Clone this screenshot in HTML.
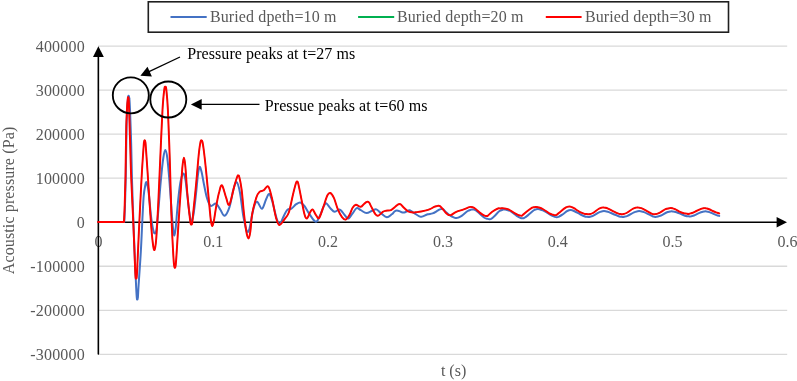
<!DOCTYPE html>
<html><head><meta charset="utf-8"><title>Acoustic pressure chart</title>
<style>html,body{margin:0;padding:0;background:#fff;overflow:hidden}</style></head>
<body>
<svg width="797" height="381" viewBox="0 0 797 381" style="display:block;will-change:transform;font-family:'Liberation Serif',serif;font-size:16px">
<rect width="797" height="381" fill="#fff"/>
<line x1="98" y1="46.10" x2="787.2" y2="46.10" stroke="#d9d9d9" stroke-width="1.3"/>
<line x1="98" y1="90.13" x2="787.2" y2="90.13" stroke="#d9d9d9" stroke-width="1.3"/>
<line x1="98" y1="134.16" x2="787.2" y2="134.16" stroke="#d9d9d9" stroke-width="1.3"/>
<line x1="98" y1="178.19" x2="787.2" y2="178.19" stroke="#d9d9d9" stroke-width="1.3"/>
<line x1="98" y1="266.25" x2="787.2" y2="266.25" stroke="#d9d9d9" stroke-width="1.3"/>
<line x1="98" y1="310.28" x2="787.2" y2="310.28" stroke="#d9d9d9" stroke-width="1.3"/>
<line x1="98" y1="354.31" x2="787.2" y2="354.31" stroke="#d9d9d9" stroke-width="1.3"/>
<text x="84.7" y="51.5" text-anchor="end" textLength="49" lengthAdjust="spacing" fill="#595959">400000</text>
<text x="84.7" y="95.5" text-anchor="end" textLength="49" lengthAdjust="spacing" fill="#595959">300000</text>
<text x="84.7" y="139.5" text-anchor="end" textLength="49" lengthAdjust="spacing" fill="#595959">200000</text>
<text x="84.7" y="183.5" text-anchor="end" textLength="49" lengthAdjust="spacing" fill="#595959">100000</text>
<text x="84.7" y="227.5" text-anchor="end" fill="#595959">0</text>
<text x="84.7" y="271.5" text-anchor="end" textLength="54.4" lengthAdjust="spacing" fill="#595959">-100000</text>
<text x="84.7" y="315.5" text-anchor="end" textLength="54.4" lengthAdjust="spacing" fill="#595959">-200000</text>
<text x="84.7" y="359.5" text-anchor="end" textLength="54.4" lengthAdjust="spacing" fill="#595959">-300000</text>
<text x="98.4" y="246.9" text-anchor="middle" fill="#595959">0</text>
<text x="213.2" y="246.9" text-anchor="middle" fill="#595959">0.1</text>
<text x="328.1" y="246.9" text-anchor="middle" fill="#595959">0.2</text>
<text x="442.9" y="246.9" text-anchor="middle" fill="#595959">0.3</text>
<text x="557.8" y="246.9" text-anchor="middle" fill="#595959">0.4</text>
<text x="672.6" y="246.9" text-anchor="middle" fill="#595959">0.5</text>
<text x="787.5" y="246.9" text-anchor="middle" fill="#595959">0.6</text>
<text transform="translate(13.6,200.5) rotate(-90)" text-anchor="middle" textLength="147.6" lengthAdjust="spacing" fill="#595959">Acoustic pressure (Pa)</text>
<text x="453.6" y="375.9" text-anchor="middle" fill="#595959">t (s)</text>
<line x1="98.35" y1="354" x2="98.35" y2="55" stroke="#000" stroke-width="1.6" stroke-linecap="round"/>
<polygon points="98.4,46.3 93,57 103.8,57" fill="#000"/>
<line x1="97.4" y1="222.25" x2="778" y2="222.25" stroke="#000" stroke-width="1.4"/>
<polygon points="787,222.3 776.6,217 776.6,227.6" fill="#000"/>
<path d="M98 222L124.3 222L124.3 222.0C124.4 219.2 124.8 212.7 125.0 205.0C125.2 197.3 125.6 186.5 125.8 176.0C126.0 165.5 126.1 151.0 126.3 142.0C126.5 133.0 126.5 128.0 126.7 122.0C126.9 116.0 127.2 110.1 127.4 106.0C127.6 101.9 127.9 99.1 128.1 97.4C128.3 95.7 128.5 95.7 128.7 95.8C128.9 95.9 129.1 95.5 129.3 98.2C129.6 100.9 129.8 104.2 130.1 112.0C130.4 119.8 130.9 133.7 131.2 145.0C131.5 156.3 131.6 167.2 132.0 180.0C132.4 192.8 132.9 208.3 133.4 222.0C133.9 235.7 134.5 251.0 135.0 262.0C135.5 273.0 135.9 282.0 136.2 288.0C136.5 294.0 136.6 295.8 136.8 297.7C137.0 299.7 137.1 299.6 137.3 299.5C137.5 299.4 137.7 299.7 137.9 297.3C138.1 294.9 138.1 292.5 138.6 285.0C139.1 277.5 140.1 263.7 140.8 252.0C141.5 240.3 142.1 224.3 142.6 215.0C143.1 205.7 143.3 200.8 143.7 196.0C144.1 191.2 144.6 188.5 145.1 186.2C145.6 183.9 145.9 181.2 146.5 182.2C147.1 183.2 147.9 186.5 148.6 192.0C149.3 197.5 150.2 208.8 150.9 215.0C151.6 221.2 152.3 225.9 153.0 229.0C153.7 232.1 154.4 233.8 155.0 233.5C155.6 233.2 156.2 231.8 156.8 227.0C157.4 222.2 158.1 213.2 158.8 205.0C159.5 196.8 160.3 185.8 161.1 178.0C161.8 170.2 162.6 162.7 163.3 158.0C164.0 153.3 164.6 150.1 165.3 150.1C166.0 150.1 166.6 152.7 167.3 158.0C168.0 163.3 168.8 173.0 169.5 182.0C170.2 191.0 171.1 204.2 171.7 212.0C172.3 219.8 172.6 225.1 173.1 229.0C173.6 232.9 173.9 235.7 174.4 235.4C174.9 235.1 175.2 232.1 175.8 227.0C176.4 221.9 176.9 212.3 177.7 205.0C178.4 197.7 179.4 188.2 180.3 183.0C181.2 177.8 182.3 174.2 183.2 173.7C184.1 173.2 184.8 175.9 185.5 180.0C186.2 184.1 186.9 192.3 187.6 198.0C188.3 203.7 188.9 210.2 189.6 214.0C190.2 217.8 190.8 220.5 191.5 220.5C192.2 220.5 192.8 218.4 193.6 214.0C194.3 209.6 195.3 200.5 196.0 194.0C196.7 187.5 197.3 179.5 197.9 175.0C198.5 170.5 199.0 167.4 199.6 166.9C200.2 166.4 200.9 169.2 201.6 172.0C202.3 174.8 203.0 179.5 203.9 184.0C204.8 188.5 206.0 195.2 207.2 198.8C208.3 202.5 209.3 205.1 210.8 205.9C212.3 206.7 214.4 202.9 216.0 203.6C217.6 204.2 219.0 207.8 220.4 209.8C221.8 211.8 223.1 216.2 224.6 215.8C226.1 215.4 227.9 211.8 229.4 207.4C230.9 203.0 232.2 193.7 233.4 189.5C234.6 185.3 235.6 181.6 236.7 182.1C237.8 182.6 238.9 187.1 240.0 192.7C241.1 198.3 242.2 209.7 243.2 215.6C244.2 221.5 245.1 225.3 245.8 228.0C246.5 230.7 247.0 231.7 247.6 231.9C248.2 232.1 248.9 230.7 249.4 229.0C249.9 227.3 250.1 225.6 250.8 222.0C251.5 218.4 252.8 210.8 253.8 207.4C254.9 204.0 255.7 201.5 257.1 201.7C258.5 201.9 260.5 209.1 262.0 208.7C263.5 208.3 264.9 201.8 266.1 199.3C267.3 196.9 268.2 193.5 269.3 194.0C270.4 194.5 271.4 198.4 272.6 202.5C273.8 206.6 275.5 215.3 276.7 218.8C277.9 222.3 278.8 224.0 279.9 223.7C281.0 223.4 282.0 219.5 283.2 217.2C284.4 214.9 285.9 211.3 287.3 209.9C288.7 208.5 289.9 209.6 291.4 208.7C292.9 207.8 294.7 205.2 296.2 204.2C297.7 203.2 298.9 202.2 300.3 202.5C301.7 202.8 302.9 203.9 304.4 205.8C305.9 207.7 307.4 211.2 309.3 213.9C311.2 216.6 314.0 221.5 315.8 221.8C317.6 222.1 318.5 218.3 319.9 215.6C321.3 212.9 322.9 207.8 324.0 205.8C325.1 203.8 325.3 203.0 326.4 203.4C327.5 203.8 329.2 207.1 330.6 208.5C332.0 209.9 333.2 211.7 334.7 211.8C336.2 212.0 338.2 209.3 339.6 209.4C341.0 209.5 341.6 211.2 342.8 212.6C344.0 214.0 345.9 216.9 346.9 217.8C347.9 218.7 348.1 218.9 349.0 218.2C349.9 217.5 351.3 215.1 352.6 213.4C353.9 211.7 355.3 208.6 356.7 208.1C358.1 207.6 359.2 209.4 360.8 210.2C362.4 211.0 364.6 213.0 366.5 213.1C368.4 213.2 370.6 211.3 372.2 210.7C373.8 210.1 374.8 208.9 376.3 209.4C377.8 209.9 379.4 212.1 381.2 213.4C383.0 214.7 385.1 217.0 386.9 217.2C388.7 217.3 390.5 215.2 391.8 214.3C393.1 213.4 393.7 212.1 394.5 211.5C395.3 210.9 395.9 210.6 396.8 210.6C397.7 210.6 399.2 211.1 400.0 211.4C400.8 211.7 401.1 212.1 401.7 212.3C402.3 212.5 402.8 212.6 403.4 212.6C404.0 212.6 404.5 212.5 405.1 212.3C405.7 212.0 406.2 211.5 407.0 211.2C407.8 210.9 408.4 209.8 409.7 210.2C411.0 210.6 413.0 212.4 414.6 213.4C416.2 214.4 418.3 215.8 419.4 216.4C420.5 216.9 420.5 216.7 421.1 216.7C421.7 216.7 421.7 216.8 422.8 216.4C423.9 216.0 426.1 214.8 427.7 214.3C429.3 213.8 431.0 214.0 432.6 213.4C434.2 212.8 436.3 211.4 437.5 210.7C438.7 210.0 439.1 209.6 439.8 209.3C440.5 209.0 440.9 209.0 441.5 209.0C442.1 209.0 442.4 208.7 443.2 209.3C444.0 209.9 445.2 211.5 446.4 212.6C447.6 213.7 449.2 215.1 450.6 215.9C452.0 216.7 453.7 217.3 454.6 217.7C455.6 218.0 455.7 218.0 456.3 218.0C456.9 218.0 457.1 218.1 458.0 217.7C458.9 217.3 460.4 216.7 462.0 215.6C463.6 214.5 466.2 212.0 467.7 211.0C469.2 210.0 470.1 210.0 470.9 209.7C471.7 209.5 472.0 209.4 472.6 209.4C473.2 209.4 473.5 209.3 474.3 209.7C475.1 210.1 475.9 210.5 477.5 211.8C479.1 213.1 482.3 216.3 484.0 217.5C485.7 218.7 486.8 218.6 487.7 218.9C488.6 219.2 488.8 219.2 489.4 219.2C490.0 219.2 490.2 219.4 491.1 218.9C492.0 218.3 493.2 217.2 494.6 215.9C496.0 214.6 498.1 212.0 499.5 211.0C500.9 210.0 501.9 210.0 502.7 209.7C503.5 209.5 503.8 209.4 504.4 209.4C505.0 209.4 505.1 209.5 506.1 209.7C507.0 210.0 508.3 210.0 510.1 211.0C511.9 212.0 514.9 214.7 516.7 215.9C518.5 217.1 519.8 217.6 520.7 218.0C521.6 218.4 521.8 218.3 522.4 218.3C523.0 218.3 523.1 218.5 524.1 218.0C525.1 217.4 526.5 216.4 528.1 215.1C529.7 213.8 532.4 211.2 533.8 210.2C535.1 209.2 535.5 209.5 536.2 209.3C536.9 209.1 537.3 209.0 537.9 209.0C538.5 209.0 538.5 209.0 539.6 209.3C540.7 209.7 542.5 210.0 544.4 211.0C546.3 212.0 549.1 214.1 550.9 215.1C552.6 216.1 553.9 216.5 554.9 216.9C555.9 217.2 556.0 217.2 556.6 217.2C557.2 217.2 557.4 217.3 558.3 216.9C559.2 216.4 560.8 215.6 562.3 214.6C563.8 213.6 565.9 211.8 567.0 211.1C568.1 210.4 568.3 210.5 568.9 210.3C569.5 210.1 570.0 210.0 570.6 210.0C571.2 210.0 571.6 210.1 572.3 210.3C573.0 210.6 573.6 210.8 575.0 211.5C576.4 212.2 578.8 213.7 580.5 214.5C582.2 215.3 584.0 216.1 585.0 216.5C586.0 216.9 586.2 216.6 586.8 216.7C587.4 216.8 587.9 217.0 588.5 217.0C589.1 217.0 589.5 216.9 590.2 216.7C591.0 216.5 591.5 216.6 593.0 215.9C594.5 215.2 597.5 213.1 599.0 212.3C600.5 211.5 601.5 211.5 602.3 211.3C603.1 211.1 603.4 211.0 604.0 211.0C604.6 211.0 604.9 211.1 605.7 211.3C606.5 211.5 607.5 211.5 609.0 212.1C610.5 212.7 613.2 214.0 615.0 214.7C616.8 215.4 618.5 216.2 619.5 216.5C620.5 216.8 620.5 216.6 621.1 216.7C621.6 216.8 622.2 217.0 622.8 217.0C623.4 217.0 623.7 216.9 624.5 216.7C625.3 216.5 625.9 216.5 627.5 215.8C629.1 215.1 632.4 213.0 634.0 212.3C635.6 211.6 636.5 211.5 637.4 211.3C638.2 211.1 638.5 211.0 639.1 211.0C639.7 211.0 640.0 211.1 640.8 211.3C641.6 211.5 642.5 211.5 644.0 212.1C645.5 212.7 648.0 214.0 649.5 214.7C651.0 215.4 652.0 216.1 653.0 216.5C654.0 216.9 654.1 217.1 655.4 217.0C656.6 216.9 658.6 216.5 660.5 215.7C662.4 215.0 664.9 213.2 666.5 212.5C668.1 211.8 669.1 211.8 670.0 211.6C670.9 211.4 671.1 211.3 671.7 211.3C672.3 211.3 672.6 211.5 673.4 211.6C674.2 211.8 675.1 211.9 676.5 212.3C677.9 212.7 679.9 213.7 681.5 214.3C683.1 214.9 684.9 215.7 686.0 216.0C687.1 216.3 687.5 216.1 688.1 216.2C688.7 216.3 689.2 216.5 689.8 216.5C690.4 216.5 690.8 216.3 691.5 216.2C692.2 216.0 692.7 216.0 694.0 215.5C695.3 215.0 697.9 213.5 699.5 212.9C701.1 212.3 702.6 211.9 703.6 211.6C704.6 211.4 704.7 211.3 705.3 211.3C705.9 211.3 706.3 211.5 707.0 211.6C707.7 211.8 708.4 211.7 709.5 212.1C710.6 212.5 712.3 213.3 713.5 213.8C714.7 214.3 715.5 214.8 716.5 215.1C717.5 215.5 718.8 215.8 719.2 215.9" fill="none" stroke="#4472c4" stroke-width="2" stroke-linejoin="round" stroke-linecap="round"/>
<path d="M98 222L124.0 222L124.0 222.0C124.1 219.2 124.5 212.7 124.7 205.0C125.0 197.3 125.3 186.5 125.5 176.0C125.7 165.5 125.8 151.0 126.0 142.0C126.2 133.0 126.2 127.8 126.4 122.0C126.6 116.2 126.9 110.9 127.1 107.0C127.3 103.1 127.6 100.3 127.8 98.6C128.0 97.0 128.1 97.0 128.3 97.1C128.5 97.2 128.6 96.9 128.7 99.4C128.9 101.9 129.0 104.4 129.2 112.0C129.4 119.6 129.8 133.7 130.2 145.0C130.5 156.3 130.8 168.2 131.3 180.0C131.8 191.8 132.4 203.5 133.0 216.0C133.6 228.5 134.2 245.0 134.6 255.0C135.0 265.0 135.2 272.1 135.5 276.0C135.7 279.9 136.0 278.4 136.2 278.4C136.4 278.4 136.6 279.1 136.8 276.0C137.1 272.9 137.2 268.5 137.6 260.0C138.0 251.5 138.6 237.5 139.2 225.0C139.8 212.5 140.6 196.7 141.2 185.0C141.8 173.3 142.5 162.1 143.0 155.0C143.5 147.9 143.7 144.9 143.9 142.5C144.2 140.0 144.4 140.2 144.7 140.2C145.0 140.2 145.2 140.0 145.5 142.5C145.7 144.9 145.9 148.2 146.4 155.0C146.9 161.8 147.6 172.5 148.3 183.0C149.0 193.5 149.9 208.2 150.6 218.0C151.3 227.8 152.0 236.7 152.7 242.0C153.3 247.3 153.9 250.7 154.5 250.0C155.1 249.3 155.7 245.5 156.3 238.0C156.9 230.5 157.5 218.0 158.2 205.0C158.8 192.0 159.5 175.8 160.2 160.0C160.9 144.2 161.8 121.8 162.5 110.0C163.2 98.2 163.8 93.2 164.3 89.4C164.8 85.6 165.0 87.0 165.3 87.0C165.6 87.0 165.9 85.6 166.3 89.4C166.7 93.2 167.3 98.2 167.9 110.0C168.5 121.8 169.2 142.5 169.8 160.0C170.4 177.5 170.8 199.2 171.4 215.0C172.0 230.8 172.8 246.5 173.3 255.0C173.8 263.5 173.9 263.8 174.2 266.0C174.4 268.2 174.7 268.0 174.9 268.0C175.1 268.0 175.4 268.2 175.6 266.0C175.9 263.8 176.0 262.3 176.5 255.0C177.0 247.7 177.8 233.3 178.6 222.0C179.3 210.7 180.3 196.3 181.0 187.0C181.7 177.7 182.0 170.9 182.5 166.0C183.0 161.1 183.4 157.7 183.9 157.7C184.4 157.7 184.8 160.3 185.3 166.0C185.9 171.7 186.5 183.8 187.2 192.0C187.9 200.2 188.9 209.8 189.5 215.0C190.1 220.2 190.2 221.5 190.5 223.1C190.9 224.7 191.1 224.7 191.4 224.6C191.7 224.5 191.9 224.8 192.3 222.7C192.6 220.6 192.6 218.8 193.3 212.0C194.0 205.2 195.4 191.8 196.3 182.0C197.2 172.2 198.2 159.7 198.9 153.0C199.6 146.3 200.1 144.1 200.5 142.0C200.9 139.9 201.2 140.4 201.5 140.4C201.8 140.4 202.1 140.0 202.5 142.0C202.9 143.9 203.4 147.2 204.0 152.0C204.6 156.8 205.2 162.0 206.1 171.0C207.0 180.0 208.6 197.6 209.4 205.8C210.2 214.0 210.3 216.6 210.8 220.0C211.3 223.4 211.8 226.2 212.4 226.0C213.0 225.8 213.5 222.4 214.2 219.0C214.8 215.6 215.5 210.3 216.3 205.8C217.1 201.3 218.2 195.4 219.2 192.0C220.1 188.6 220.8 184.5 222.0 185.4C223.2 186.3 224.9 194.4 226.1 197.6C227.3 200.8 228.0 206.5 229.4 204.6C230.8 202.7 233.0 190.9 234.3 186.2C235.6 181.5 236.6 178.3 237.3 176.5C238.0 174.7 238.0 175.5 238.3 175.6C238.6 175.7 238.8 174.7 239.3 177.0C239.9 179.3 240.8 183.4 241.6 189.5C242.4 195.6 243.2 206.8 244.0 213.9C244.8 221.0 245.6 227.9 246.4 232.0C247.2 236.1 247.9 238.6 248.6 238.4C249.3 238.2 249.8 235.1 250.4 231.0C251.0 226.9 251.2 219.5 252.2 213.9C253.2 208.3 255.1 201.3 256.3 197.6C257.5 193.9 258.3 193.1 259.5 191.9C260.7 190.7 262.2 191.2 263.6 190.3C265.1 189.4 266.8 185.3 268.2 186.5C269.6 187.7 270.5 192.5 271.8 197.6C273.1 202.7 274.6 212.6 275.9 217.2C277.2 221.8 277.9 224.7 279.4 225.0C280.9 225.3 283.2 220.9 284.8 218.8C286.4 216.7 287.5 216.4 288.9 212.3C290.3 208.2 291.8 199.3 293.0 194.4C294.2 189.5 295.4 184.9 296.1 182.8C296.8 180.7 296.8 181.8 297.1 181.8C297.4 181.8 297.4 180.5 298.1 183.1C298.8 185.8 300.1 192.5 301.1 197.6C302.2 202.7 303.4 210.4 304.4 213.9C305.4 217.4 305.9 218.8 306.9 218.5C307.8 218.2 309.2 213.8 310.1 212.3C311.1 210.8 311.7 209.0 312.6 209.4C313.6 209.8 314.7 213.4 315.8 214.8C316.9 216.2 317.9 219.2 319.1 218.0C320.3 216.8 321.8 211.2 323.2 207.4C324.6 203.7 326.1 197.9 327.3 195.5C328.5 193.1 329.2 192.6 330.3 193.0C331.4 193.4 332.6 195.2 333.9 197.9C335.2 200.6 336.5 206.2 337.9 209.4C339.2 212.6 340.7 215.5 342.0 217.2C343.3 218.9 344.4 219.9 345.6 219.6C346.8 219.2 348.2 217.1 349.4 215.1C350.6 213.1 351.5 209.4 352.6 207.7C353.7 206.0 354.5 205.0 355.9 204.8C357.3 204.7 359.4 207.0 360.8 206.8C362.2 206.7 363.1 204.7 364.0 203.9C364.9 203.1 365.6 202.5 366.2 202.1C366.8 201.7 367.3 201.6 367.8 201.7C368.3 201.8 368.7 201.9 369.3 202.8C369.9 203.7 370.4 205.0 371.4 206.9C372.4 208.8 374.3 212.9 375.5 214.3C376.7 215.8 377.2 216.0 378.4 215.6C379.6 215.2 381.5 212.6 382.8 211.8C384.1 211.0 384.7 211.0 386.1 210.7C387.5 210.4 389.4 210.9 391.0 210.2C392.6 209.5 394.4 207.5 395.5 206.6C396.6 205.7 397.1 205.0 397.8 204.6C398.5 204.2 398.9 204.0 399.5 204.0C400.1 204.0 400.6 204.2 401.2 204.7C401.8 205.2 402.2 206.1 403.4 207.2C404.5 208.3 406.7 210.5 408.1 211.3C409.6 212.1 411.2 212.1 412.1 212.3C413.1 212.5 413.2 212.6 413.8 212.6C414.4 212.6 414.3 212.5 415.5 212.3C416.7 212.1 418.8 212.0 421.1 211.5C423.4 211.0 427.1 210.2 429.3 209.4C431.5 208.6 433.0 207.4 434.2 206.9C435.4 206.4 435.9 206.3 436.6 206.1C437.3 205.9 437.7 205.8 438.3 205.8C438.9 205.8 439.3 205.7 440.0 206.1C440.7 206.6 441.3 207.4 442.3 208.5C443.3 209.6 445.0 212.0 446.0 213.0C447.0 214.0 447.5 214.4 448.1 214.8C448.7 215.1 449.2 215.1 449.8 215.1C450.4 215.1 450.4 215.3 451.5 214.8C452.6 214.2 454.3 212.7 456.3 211.8C458.3 210.9 461.5 210.2 463.7 209.4C465.9 208.6 468.1 207.6 469.3 207.2C470.5 206.8 470.4 206.9 471.0 206.9C471.6 206.9 472.0 207.0 472.7 207.2C473.4 207.5 473.8 207.5 475.1 208.5C476.5 209.5 479.2 212.2 480.8 213.4C482.4 214.6 483.6 215.2 484.5 215.6C485.4 216.0 485.6 215.9 486.2 215.9C486.8 215.9 486.9 216.3 487.9 215.6C488.9 214.9 490.5 213.0 492.2 211.8C493.9 210.6 496.5 209.1 497.9 208.5C499.2 207.9 499.6 208.5 500.3 208.4C501.0 208.4 501.4 208.1 502.0 208.1C502.6 208.1 502.6 208.2 503.7 208.4C504.8 208.6 506.6 208.6 508.5 209.4C510.4 210.2 513.2 212.4 515.0 213.4C516.8 214.4 518.0 214.9 519.0 215.3C520.0 215.6 520.1 215.6 520.7 215.6C521.3 215.6 521.4 215.9 522.4 215.3C523.4 214.6 524.9 213.1 526.5 211.8C528.1 210.5 530.9 208.5 532.2 207.7C533.5 206.9 533.8 207.4 534.5 207.2C535.2 207.1 535.6 206.9 536.2 206.9C536.8 206.9 536.8 206.9 537.9 207.2C539.0 207.6 540.9 208.0 542.8 209.0C544.7 210.0 547.5 212.4 549.3 213.4C551.0 214.4 552.3 214.5 553.3 214.8C554.2 215.1 554.4 215.1 555.0 215.1C555.6 215.1 555.8 215.4 556.7 214.8C557.7 214.2 559.2 212.6 560.7 211.4C562.2 210.2 564.8 208.2 566.0 207.4C567.2 206.6 567.2 207.0 567.8 206.8C568.4 206.7 568.9 206.5 569.5 206.5C570.1 206.5 570.5 206.5 571.2 206.8C572.0 207.1 572.6 207.4 574.0 208.2C575.4 209.0 577.9 210.9 579.6 211.8C581.4 212.7 583.3 213.4 584.5 213.8C585.7 214.2 586.1 213.9 586.8 214.0C587.5 214.1 587.9 214.3 588.5 214.3C589.1 214.3 589.5 214.2 590.2 214.0C591.0 213.8 591.6 213.8 593.0 213.0C594.4 212.2 597.1 209.9 598.5 209.0C599.9 208.1 600.7 208.0 601.5 207.7C602.3 207.5 602.6 207.4 603.2 207.4C603.8 207.4 604.1 207.5 604.9 207.7C605.7 207.9 606.5 208.0 608.0 208.6C609.5 209.2 612.2 210.8 614.0 211.6C615.8 212.4 617.5 213.3 618.5 213.7C619.5 214.1 619.7 213.9 620.3 214.0C620.9 214.1 621.4 214.3 622.0 214.3C622.6 214.3 623.0 214.2 623.7 214.0C624.5 213.8 625.0 213.8 626.5 213.0C628.0 212.2 631.0 209.9 632.5 209.0C634.0 208.1 635.0 208.0 635.8 207.7C636.6 207.5 636.9 207.4 637.5 207.4C638.1 207.4 638.4 207.5 639.2 207.7C640.0 207.9 641.0 208.0 642.5 208.6C644.0 209.2 646.5 210.8 648.0 211.6C649.5 212.4 650.4 213.1 651.5 213.6C652.6 214.1 653.3 214.4 654.6 214.3C655.9 214.2 657.7 213.7 659.5 212.8C661.3 212.0 663.9 209.9 665.5 209.2C667.1 208.5 668.3 208.5 669.2 208.3C670.1 208.1 670.3 208.0 670.9 208.0C671.5 208.0 671.8 208.1 672.6 208.3C673.4 208.5 674.3 208.7 675.5 209.3C676.7 209.9 678.5 211.1 680.0 211.8C681.5 212.5 683.4 213.1 684.5 213.4C685.6 213.7 685.9 213.5 686.5 213.6C687.1 213.7 687.6 213.9 688.2 213.9C688.8 213.9 689.3 213.7 689.9 213.6C690.5 213.4 690.9 213.4 692.0 213.0C693.1 212.6 694.9 211.7 696.4 211.0C697.9 210.3 699.9 209.2 701.0 208.8C702.1 208.4 702.2 208.5 702.8 208.4C703.4 208.3 703.9 208.1 704.5 208.1C705.1 208.1 705.5 208.3 706.2 208.4C706.9 208.6 707.4 208.6 708.5 209.0C709.6 209.4 711.5 210.4 712.7 211.0C714.0 211.6 714.9 212.0 716.0 212.4C717.1 212.8 718.7 213.2 719.2 213.4" fill="none" stroke="#00b050" stroke-width="1" stroke-linejoin="round" stroke-linecap="round"/>
<path d="M98 222L124.0 222L124.0 222.0C124.1 219.2 124.5 212.7 124.7 205.0C125.0 197.3 125.3 186.5 125.5 176.0C125.7 165.5 125.8 151.0 126.0 142.0C126.2 133.0 126.2 127.8 126.4 122.0C126.6 116.2 126.9 110.9 127.1 107.0C127.3 103.1 127.6 100.3 127.8 98.6C128.0 97.0 128.1 97.0 128.3 97.1C128.5 97.2 128.6 96.9 128.7 99.4C128.9 101.9 129.0 104.4 129.2 112.0C129.4 119.6 129.8 133.7 130.2 145.0C130.5 156.3 130.8 168.2 131.3 180.0C131.8 191.8 132.4 203.5 133.0 216.0C133.6 228.5 134.2 245.0 134.6 255.0C135.0 265.0 135.2 272.1 135.5 276.0C135.7 279.9 136.0 278.4 136.2 278.4C136.4 278.4 136.6 279.1 136.8 276.0C137.1 272.9 137.2 268.5 137.6 260.0C138.0 251.5 138.6 237.5 139.2 225.0C139.8 212.5 140.6 196.7 141.2 185.0C141.8 173.3 142.5 162.1 143.0 155.0C143.5 147.9 143.7 144.9 143.9 142.5C144.2 140.0 144.4 140.2 144.7 140.2C145.0 140.2 145.2 140.0 145.5 142.5C145.7 144.9 145.9 148.2 146.4 155.0C146.9 161.8 147.6 172.5 148.3 183.0C149.0 193.5 149.9 208.2 150.6 218.0C151.3 227.8 152.0 236.7 152.7 242.0C153.3 247.3 153.9 250.7 154.5 250.0C155.1 249.3 155.7 245.5 156.3 238.0C156.9 230.5 157.5 218.0 158.2 205.0C158.8 192.0 159.5 175.8 160.2 160.0C160.9 144.2 161.8 121.8 162.5 110.0C163.2 98.2 163.8 93.2 164.3 89.4C164.8 85.6 165.0 87.0 165.3 87.0C165.6 87.0 165.9 85.6 166.3 89.4C166.7 93.2 167.3 98.2 167.9 110.0C168.5 121.8 169.2 142.5 169.8 160.0C170.4 177.5 170.8 199.2 171.4 215.0C172.0 230.8 172.8 246.5 173.3 255.0C173.8 263.5 173.9 263.8 174.2 266.0C174.4 268.2 174.7 268.0 174.9 268.0C175.1 268.0 175.4 268.2 175.6 266.0C175.9 263.8 176.0 262.3 176.5 255.0C177.0 247.7 177.8 233.3 178.6 222.0C179.3 210.7 180.3 196.3 181.0 187.0C181.7 177.7 182.0 170.9 182.5 166.0C183.0 161.1 183.4 157.7 183.9 157.7C184.4 157.7 184.8 160.3 185.3 166.0C185.9 171.7 186.5 183.8 187.2 192.0C187.9 200.2 188.9 209.8 189.5 215.0C190.1 220.2 190.2 221.5 190.5 223.1C190.9 224.7 191.1 224.7 191.4 224.6C191.7 224.5 191.9 224.8 192.3 222.7C192.6 220.6 192.6 218.8 193.3 212.0C194.0 205.2 195.4 191.8 196.3 182.0C197.2 172.2 198.2 159.7 198.9 153.0C199.6 146.3 200.1 144.1 200.5 142.0C200.9 139.9 201.2 140.4 201.5 140.4C201.8 140.4 202.1 140.0 202.5 142.0C202.9 143.9 203.4 147.2 204.0 152.0C204.6 156.8 205.2 162.0 206.1 171.0C207.0 180.0 208.6 197.6 209.4 205.8C210.2 214.0 210.3 216.6 210.8 220.0C211.3 223.4 211.8 226.2 212.4 226.0C213.0 225.8 213.5 222.4 214.2 219.0C214.8 215.6 215.5 210.3 216.3 205.8C217.1 201.3 218.2 195.4 219.2 192.0C220.1 188.6 220.8 184.5 222.0 185.4C223.2 186.3 224.9 194.4 226.1 197.6C227.3 200.8 228.0 206.5 229.4 204.6C230.8 202.7 233.0 190.9 234.3 186.2C235.6 181.5 236.6 178.3 237.3 176.5C238.0 174.7 238.0 175.5 238.3 175.6C238.6 175.7 238.8 174.7 239.3 177.0C239.9 179.3 240.8 183.4 241.6 189.5C242.4 195.6 243.2 206.8 244.0 213.9C244.8 221.0 245.6 227.9 246.4 232.0C247.2 236.1 247.9 238.6 248.6 238.4C249.3 238.2 249.8 235.1 250.4 231.0C251.0 226.9 251.2 219.5 252.2 213.9C253.2 208.3 255.1 201.3 256.3 197.6C257.5 193.9 258.3 193.1 259.5 191.9C260.7 190.7 262.2 191.2 263.6 190.3C265.1 189.4 266.8 185.3 268.2 186.5C269.6 187.7 270.5 192.5 271.8 197.6C273.1 202.7 274.6 212.6 275.9 217.2C277.2 221.8 277.9 224.7 279.4 225.0C280.9 225.3 283.2 220.9 284.8 218.8C286.4 216.7 287.5 216.4 288.9 212.3C290.3 208.2 291.8 199.3 293.0 194.4C294.2 189.5 295.4 184.9 296.1 182.8C296.8 180.7 296.8 181.8 297.1 181.8C297.4 181.8 297.4 180.5 298.1 183.1C298.8 185.8 300.1 192.5 301.1 197.6C302.2 202.7 303.4 210.4 304.4 213.9C305.4 217.4 305.9 218.8 306.9 218.5C307.8 218.2 309.2 213.8 310.1 212.3C311.1 210.8 311.7 209.0 312.6 209.4C313.6 209.8 314.7 213.4 315.8 214.8C316.9 216.2 317.9 219.2 319.1 218.0C320.3 216.8 321.8 211.2 323.2 207.4C324.6 203.7 326.1 197.9 327.3 195.5C328.5 193.1 329.2 192.6 330.3 193.0C331.4 193.4 332.6 195.2 333.9 197.9C335.2 200.6 336.5 206.2 337.9 209.4C339.2 212.6 340.7 215.5 342.0 217.2C343.3 218.9 344.4 219.9 345.6 219.6C346.8 219.2 348.2 217.1 349.4 215.1C350.6 213.1 351.5 209.4 352.6 207.7C353.7 206.0 354.5 205.0 355.9 204.8C357.3 204.7 359.4 207.0 360.8 206.8C362.2 206.7 363.1 204.7 364.0 203.9C364.9 203.1 365.6 202.5 366.2 202.1C366.8 201.7 367.3 201.6 367.8 201.7C368.3 201.8 368.7 201.9 369.3 202.8C369.9 203.7 370.4 205.0 371.4 206.9C372.4 208.8 374.3 212.9 375.5 214.3C376.7 215.8 377.2 216.0 378.4 215.6C379.6 215.2 381.5 212.6 382.8 211.8C384.1 211.0 384.7 211.0 386.1 210.7C387.5 210.4 389.4 210.9 391.0 210.2C392.6 209.5 394.4 207.5 395.5 206.6C396.6 205.7 397.1 205.0 397.8 204.6C398.5 204.2 398.9 204.0 399.5 204.0C400.1 204.0 400.6 204.2 401.2 204.7C401.8 205.2 402.2 206.1 403.4 207.2C404.5 208.3 406.7 210.5 408.1 211.3C409.6 212.1 411.2 212.1 412.1 212.3C413.1 212.5 413.2 212.6 413.8 212.6C414.4 212.6 414.3 212.5 415.5 212.3C416.7 212.1 418.8 212.0 421.1 211.5C423.4 211.0 427.1 210.2 429.3 209.4C431.5 208.6 433.0 207.4 434.2 206.9C435.4 206.4 435.9 206.3 436.6 206.1C437.3 205.9 437.7 205.8 438.3 205.8C438.9 205.8 439.3 205.7 440.0 206.1C440.7 206.6 441.3 207.4 442.3 208.5C443.3 209.6 445.0 212.0 446.0 213.0C447.0 214.0 447.5 214.4 448.1 214.8C448.7 215.1 449.2 215.1 449.8 215.1C450.4 215.1 450.4 215.3 451.5 214.8C452.6 214.2 454.3 212.7 456.3 211.8C458.3 210.9 461.5 210.2 463.7 209.4C465.9 208.6 468.1 207.6 469.3 207.2C470.5 206.8 470.4 206.9 471.0 206.9C471.6 206.9 472.0 207.0 472.7 207.2C473.4 207.5 473.8 207.5 475.1 208.5C476.5 209.5 479.2 212.2 480.8 213.4C482.4 214.6 483.6 215.2 484.5 215.6C485.4 216.0 485.6 215.9 486.2 215.9C486.8 215.9 486.9 216.3 487.9 215.6C488.9 214.9 490.5 213.0 492.2 211.8C493.9 210.6 496.5 209.1 497.9 208.5C499.2 207.9 499.6 208.5 500.3 208.4C501.0 208.4 501.4 208.1 502.0 208.1C502.6 208.1 502.6 208.2 503.7 208.4C504.8 208.6 506.6 208.6 508.5 209.4C510.4 210.2 513.2 212.4 515.0 213.4C516.8 214.4 518.0 214.9 519.0 215.3C520.0 215.6 520.1 215.6 520.7 215.6C521.3 215.6 521.4 215.9 522.4 215.3C523.4 214.6 524.9 213.1 526.5 211.8C528.1 210.5 530.9 208.5 532.2 207.7C533.5 206.9 533.8 207.4 534.5 207.2C535.2 207.1 535.6 206.9 536.2 206.9C536.8 206.9 536.8 206.9 537.9 207.2C539.0 207.6 540.9 208.0 542.8 209.0C544.7 210.0 547.5 212.4 549.3 213.4C551.0 214.4 552.3 214.5 553.3 214.8C554.2 215.1 554.4 215.1 555.0 215.1C555.6 215.1 555.8 215.4 556.7 214.8C557.7 214.2 559.2 212.6 560.7 211.4C562.2 210.2 564.8 208.2 566.0 207.4C567.2 206.6 567.2 207.0 567.8 206.8C568.4 206.7 568.9 206.5 569.5 206.5C570.1 206.5 570.5 206.5 571.2 206.8C572.0 207.1 572.6 207.4 574.0 208.2C575.4 209.0 577.9 210.9 579.6 211.8C581.4 212.7 583.3 213.4 584.5 213.8C585.7 214.2 586.1 213.9 586.8 214.0C587.5 214.1 587.9 214.3 588.5 214.3C589.1 214.3 589.5 214.2 590.2 214.0C591.0 213.8 591.6 213.8 593.0 213.0C594.4 212.2 597.1 209.9 598.5 209.0C599.9 208.1 600.7 208.0 601.5 207.7C602.3 207.5 602.6 207.4 603.2 207.4C603.8 207.4 604.1 207.5 604.9 207.7C605.7 207.9 606.5 208.0 608.0 208.6C609.5 209.2 612.2 210.8 614.0 211.6C615.8 212.4 617.5 213.3 618.5 213.7C619.5 214.1 619.7 213.9 620.3 214.0C620.9 214.1 621.4 214.3 622.0 214.3C622.6 214.3 623.0 214.2 623.7 214.0C624.5 213.8 625.0 213.8 626.5 213.0C628.0 212.2 631.0 209.9 632.5 209.0C634.0 208.1 635.0 208.0 635.8 207.7C636.6 207.5 636.9 207.4 637.5 207.4C638.1 207.4 638.4 207.5 639.2 207.7C640.0 207.9 641.0 208.0 642.5 208.6C644.0 209.2 646.5 210.8 648.0 211.6C649.5 212.4 650.4 213.1 651.5 213.6C652.6 214.1 653.3 214.4 654.6 214.3C655.9 214.2 657.7 213.7 659.5 212.8C661.3 212.0 663.9 209.9 665.5 209.2C667.1 208.5 668.3 208.5 669.2 208.3C670.1 208.1 670.3 208.0 670.9 208.0C671.5 208.0 671.8 208.1 672.6 208.3C673.4 208.5 674.3 208.7 675.5 209.3C676.7 209.9 678.5 211.1 680.0 211.8C681.5 212.5 683.4 213.1 684.5 213.4C685.6 213.7 685.9 213.5 686.5 213.6C687.1 213.7 687.6 213.9 688.2 213.9C688.8 213.9 689.3 213.7 689.9 213.6C690.5 213.4 690.9 213.4 692.0 213.0C693.1 212.6 694.9 211.7 696.4 211.0C697.9 210.3 699.9 209.2 701.0 208.8C702.1 208.4 702.2 208.5 702.8 208.4C703.4 208.3 703.9 208.1 704.5 208.1C705.1 208.1 705.5 208.3 706.2 208.4C706.9 208.6 707.4 208.6 708.5 209.0C709.6 209.4 711.5 210.4 712.7 211.0C714.0 211.6 714.9 212.0 716.0 212.4C717.1 212.8 718.7 213.2 719.2 213.4" fill="none" stroke="#ff0000" stroke-width="1.95" stroke-linejoin="round" stroke-linecap="round"/>
<circle cx="130.8" cy="95.3" r="18" fill="none" stroke="#000" stroke-width="1.85"/>
<circle cx="168.3" cy="99.5" r="18" fill="none" stroke="#000" stroke-width="1.85"/>
<line x1="180" y1="57" x2="148" y2="72.2" stroke="#000" stroke-width="1.3"/>
<polygon points="140.4,75.8 147.5,66.8 151.9,76.5" fill="#000"/>
<line x1="259.5" y1="104.4" x2="199" y2="104.4" stroke="#000" stroke-width="1.3"/>
<polygon points="190.9,104.4 201.7,99.0 201.7,109.8" fill="#000"/>
<text x="187.2" y="58.8" textLength="168" lengthAdjust="spacing" fill="#000">Pressure peaks at t=27 ms</text>
<text x="264.8" y="111.1" textLength="162.6" lengthAdjust="spacing" fill="#000">Pressue peaks at t=60 ms</text>
<rect x="148.3" y="1.8" width="580.2" height="30.4" fill="#fff" stroke="#1f1f1f" stroke-width="1.6"/>
<line x1="170.5" y1="17" x2="206.7" y2="17" stroke="#4472c4" stroke-width="2"/>
<text x="209.9" y="21.8" textLength="126.5" lengthAdjust="spacing" fill="#595959">Buried dpeth=10 m</text>
<line x1="358.1" y1="17" x2="394.2" y2="17" stroke="#00b050" stroke-width="1.9"/>
<text x="396.9" y="21.8" textLength="126.5" lengthAdjust="spacing" fill="#595959">Buried depth=20 m</text>
<line x1="545.8" y1="17" x2="581.6" y2="17" stroke="#ff0000" stroke-width="2"/>
<text x="584.9" y="21.8" textLength="126.5" lengthAdjust="spacing" fill="#595959">Buried depth=30 m</text>
</svg>
</body></html>
